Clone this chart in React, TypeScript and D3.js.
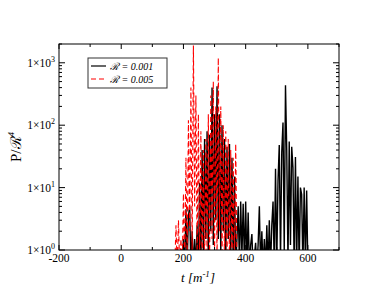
import React from "react";
import * as d3 from "d3";

// both series sampled every 4 m^-1
const step = 4;
const blackStart = 196;
const blackValues = [
  0.5, 1.5, 0.5, 4.5, 0.6, 3.5, 5, 0.5, 2, 0.5, 1.5, 0.5, 2.5, 0.5, 12, 0.5,
  40, 0.8, 60, 1.5, 80, 0.7, 70, 2, 400, 1.2, 150, 3, 420, 1.5, 150, 0.8, 100,
  2, 60, 0.6, 45, 1.5, 50, 0.7, 30, 0.5, 15, 0.5, 1.5, 5, 0.6, 6, 0.8, 5.5,
  0.6, 6, 0.5, 4, 0.5, 1.2, 1.8, 0.5, 0.8, 1.3, 0.5, 1.2, 5, 0.5, 2, 0.5, 1.5,
  0.5, 2.5, 0.5, 3, 0.5, 2.5, 6, 0.5, 20, 0.6, 13, 48, 0.7, 37, 110, 1, 435,
  40, 0.6, 55, 1.2, 45, 21, 0.5, 31, 0.6, 15, 0.5, 10, 7.7, 0.5, 10, 0.6, 9,
  0.5, 0.5,
];
const redStart = 172;
const redValues = [
  0.5, 2.5, 0.5, 3, 0.5, 1.5, 0.5, 8, 0.5, 30, 0.8, 120, 2, 400, 1, 1900, 5,
  300, 0.8, 150, 0.6, 80, 0.5, 40, 0.5, 60, 0.7, 150, 0.6, 300, 1.5, 500, 0.8,
  200, 0.6, 1200, 2, 200, 0.7, 100, 0.5, 80, 0.6, 60, 0.5, 40, 0.5, 30, 0.5,
  50, 0.5,
];

const xTicks = [-200, 0, 200, 400, 600];
const xMinor = [-100, 100, 300, 500, 700];
const yDecades = [0, 1, 2, 3];

const W = 382;
const H = 295;
const L = 59;
const R = 339;
const T = 44;
const B = 250;

export default function App() {
  const x = d3.scaleLinear().domain([-200, 700]).range([L, R]);
  const y = d3.scaleLog().domain([1, 2000]).range([B, T]);

  const path = (start: number, vals: number[]) =>
    d3
      .line<number>()
      .x((_, i) => x(start + i * step))
      .y((d) => y(d))(vals) || "";

  const minorY: number[] = [];
  for (const e of yDecades) {
    for (let k = 2; k <= 9; k++) {
      const v = k * Math.pow(10, e);
      if (v <= 2000) minorY.push(v);
    }
  }

  const serif = "'Liberation Serif', 'DejaVu Serif', serif";
  const ink = "#000";

  return (
    <svg
      width={W}
      height={H}
      style={{ position: "absolute", left: 0, top: 0, background: "#fff" }}
      fontFamily={serif}
    >
      <defs>
        <clipPath id="plot">
          <rect x={L} y={T} width={R - L} height={B - T} />
        </clipPath>
      </defs>

      <g clipPath="url(#plot)" fill="none">
        <path d={path(blackStart, blackValues)} stroke="#000" strokeWidth={1.4} />
        <path
          d={path(redStart, redValues)}
          stroke="#ff0000"
          strokeWidth={1.1}
          strokeDasharray="5,3"
        />
      </g>

      {/* frame */}
      <rect x={L} y={T} width={R - L} height={B - T} fill="none" stroke={ink} strokeWidth={1} />

      {/* x ticks */}
      {xTicks.map((t) => (
        <g key={"x" + t}>
          <line x1={x(t)} x2={x(t)} y1={B} y2={B - 5} stroke={ink} />
          <line x1={x(t)} x2={x(t)} y1={T} y2={T + 5} stroke={ink} />
          <text x={x(t)} y={262} textAnchor="middle" fontSize={11.5}>
            {t}
          </text>
        </g>
      ))}
      {xMinor.map((t) => (
        <g key={"xm" + t}>
          <line x1={x(t)} x2={x(t)} y1={B} y2={B - 3} stroke={ink} />
          <line x1={x(t)} x2={x(t)} y1={T} y2={T + 3} stroke={ink} />
        </g>
      ))}

      {/* y ticks */}
      {yDecades.map((e) => {
        const py = y(Math.pow(10, e));
        return (
          <g key={"y" + e}>
            <line x1={L} x2={L + 6} y1={py} y2={py} stroke={ink} />
            <line x1={R} x2={R - 6} y1={py} y2={py} stroke={ink} />
            <text x={L - 8} y={py + 4} textAnchor="end" fontSize={11.5}>
              1×10
            </text>
            <text x={L - 8} y={py - 1} fontSize={8}>
              {e}
            </text>
          </g>
        );
      })}
      {minorY.map((v) => (
        <g key={"ym" + v}>
          <line x1={L} x2={L + 3} y1={y(v)} y2={y(v)} stroke={ink} />
          <line x1={R} x2={R - 3} y1={y(v)} y2={y(v)} stroke={ink} />
        </g>
      ))}

      {/* axis titles */}
      <text x={198} y={282} textAnchor="middle" fontSize={13} fontStyle="italic">
        t [m
        <tspan dy={-5} fontSize={9}>
          -1
        </tspan>
        <tspan dy={5}>]</tspan>
      </text>
      <text
        transform={`translate(21,${(T + B) / 2}) rotate(-90)`}
        textAnchor="middle"
        fontSize={15}
      >
        P/ℛ
        <tspan dy={-7} fontSize={9} fontStyle="italic">
          4
        </tspan>
      </text>

      {/* legend */}
      <rect x={88} y={58} width={79} height={30} fill="#fff" stroke="#333" strokeWidth={1} />
      <line x1={91} x2={106} y1={66} y2={66} stroke="#000" strokeWidth={1.2} />
      <line
        x1={91}
        x2={106}
        y1={79}
        y2={79}
        stroke="#ff0000"
        strokeWidth={1.1}
        strokeDasharray="5,3"
      />
      <text x={110} y={70} fontSize={10} fontStyle="italic">
        ℛ = 0.001
      </text>
      <text x={110} y={83} fontSize={10} fontStyle="italic">
        ℛ = 0.005
      </text>
    </svg>
  );
}
